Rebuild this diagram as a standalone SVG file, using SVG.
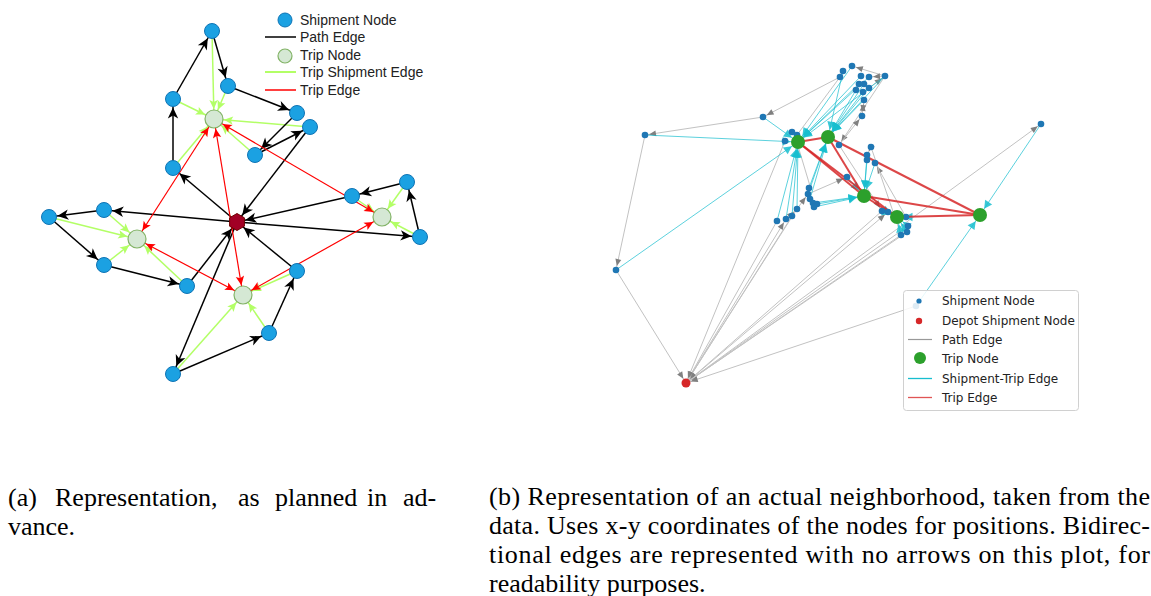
<svg xmlns="http://www.w3.org/2000/svg" width="1151" height="596" viewBox="0 0 1151 596">
<style>
  .ship{fill:#1ba1e2;stroke:#0f74b5;stroke-width:1}
  .trip{fill:#d5e8d4;stroke:#82b366;stroke-width:1.2}
  .path{stroke:#000;stroke-width:1.5;fill:none;marker-end:url(#mk)}
  .tse{stroke:#b3ff66;stroke-width:1.5;fill:none;marker-end:url(#mg)}
  .te{stroke:#ff0000;stroke-width:1.2;fill:none;marker-end:url(#mr);marker-start:url(#mr)}
  .lg{font-family:"Liberation Sans",Arial,sans-serif;font-size:14px;fill:#222}
  .rs{fill:#1f77b4}
  .rt{fill:#2ca02c}
  .pe{stroke:#c2c2c2;stroke-width:1;fill:none}
  .pa{marker-end:url(#mgs)}
  .pd{marker-end:url(#mgd)}
  .se{stroke:#17becf;stroke-width:1;stroke-opacity:.7;fill:none;marker-end:url(#mc)}
  .tr{stroke:#d62728;stroke-width:2;stroke-opacity:.85;fill:none}
  .rl{font-family:"DejaVu Sans",sans-serif;font-size:12px;fill:#222}
  .cap{font-family:"Liberation Serif","Times New Roman",serif;font-size:26px;fill:#000}
</style>
<defs>
  <marker id="mk" markerUnits="userSpaceOnUse" orient="auto" overflow="visible" markerWidth="1" markerHeight="1">
    <path d="M-8.5,0 L-19.5,-5.2 L-16.5,0 L-19.5,5.2 Z" fill="#000"/>
  </marker>
  <marker id="mg" markerUnits="userSpaceOnUse" orient="auto" overflow="visible" markerWidth="1" markerHeight="1">
    <path d="M-10,0 L-19,-4.2 L-17,0 L-19,4.2 Z" fill="#b3ff66"/>
  </marker>
  <marker id="mr" markerUnits="userSpaceOnUse" orient="auto-start-reverse" overflow="visible" markerWidth="1" markerHeight="1">
    <path d="M-10,0 L-19,-4.2 L-17,0 L-19,4.2 Z" fill="#ff0000"/>
  </marker>
  <marker id="mgs" markerUnits="userSpaceOnUse" orient="auto" overflow="visible" markerWidth="1" markerHeight="1">
    <path d="M-4,0 L-11,-3 L-11,3 Z" fill="#808080"/>
  </marker>
  <marker id="mgd" markerUnits="userSpaceOnUse" orient="auto" overflow="visible" markerWidth="1" markerHeight="1">
    <path d="M-5,0 L-12,-3 L-12,3 Z" fill="#808080"/>
  </marker>
  <marker id="mc" markerUnits="userSpaceOnUse" orient="auto" overflow="visible" markerWidth="1" markerHeight="1">
    <path d="M-7.5,0 L-15.5,-4.2 L-15.5,4.2 Z" fill="#17becf" fill-opacity=".85"/>
  </marker>
</defs>
<rect width="1151" height="596" fill="#fff"/>

<!-- ===== (a) planned representation ===== -->
<g id="a-connectors">
  <!-- trip-shipment edges -->
  <line class="tse" x1="212" y1="31" x2="214" y2="119"/>
  <line class="tse" x1="228" y1="86" x2="214" y2="119"/>
  <line class="tse" x1="173" y1="99" x2="214" y2="119"/>
  <line class="tse" x1="310" y1="127" x2="214" y2="119"/>
  <line class="tse" x1="255" y1="155" x2="214" y2="119"/>
  <line class="tse" x1="173" y1="168" x2="214" y2="119"/>
  <line class="tse" x1="104" y1="210" x2="137" y2="239"/>
  <line class="tse" x1="49" y1="217" x2="137" y2="239"/>
  <line class="tse" x1="104" y1="265" x2="137" y2="239"/>
  <line class="tse" x1="187" y1="286" x2="137" y2="239"/>
  <line class="tse" x1="173" y1="374" x2="243" y2="295"/>
  <line class="tse" x1="269" y1="333" x2="243" y2="295"/>
  <line class="tse" x1="297" y1="271" x2="243" y2="295"/>
  <line class="tse" x1="407" y1="182" x2="382" y2="217"/>
  <line class="tse" x1="420" y1="237" x2="382" y2="217"/>
  <line class="tse" x1="352" y1="196" x2="382" y2="217"/>
  <!-- path edges -->
  <line class="path" x1="173" y1="99" x2="212" y2="31"/>
  <line class="path" x1="212" y1="31" x2="228" y2="86"/>
  <line class="path" x1="228" y1="86" x2="297" y2="113"/>
  <line class="path" x1="297" y1="113" x2="255" y2="155"/>
  <line class="path" x1="255" y1="155" x2="310" y2="127"/>
  <line class="path" x1="310" y1="127" x2="237" y2="222"/>
  <line class="path" x1="173" y1="168" x2="173" y2="99"/>
  <line class="path" x1="237" y1="222" x2="173" y2="168"/>
  <line class="path" x1="352" y1="196" x2="237" y2="222"/>
  <line class="path" x1="407" y1="182" x2="352" y2="196"/>
  <line class="path" x1="420" y1="237" x2="407" y2="182"/>
  <line class="path" x1="237" y1="222" x2="420" y2="237"/>
  <line class="path" x1="297" y1="271" x2="237" y2="222"/>
  <line class="path" x1="269" y1="333" x2="297" y2="271"/>
  <line class="path" x1="173" y1="374" x2="269" y2="333"/>
  <line class="path" x1="237" y1="222" x2="173" y2="374"/>
  <line class="path" x1="187" y1="286" x2="237" y2="222"/>
  <line class="path" x1="104" y1="265" x2="187" y2="286"/>
  <line class="path" x1="49" y1="217" x2="104" y2="265"/>
  <line class="path" x1="104" y1="210" x2="49" y2="217"/>
  <line class="path" x1="237" y1="222" x2="104" y2="210"/>
  <!-- trip edges -->
  <line class="te" x1="214" y1="119" x2="137" y2="239"/>
  <line class="te" x1="214" y1="119" x2="243" y2="295"/>
  <line class="te" x1="214" y1="119" x2="382" y2="217"/>
  <line class="te" x1="137" y1="239" x2="243" y2="295"/>
  <line class="te" x1="243" y1="295" x2="382" y2="217"/>
</g>
<g id="a-nodes">
  <g id="a-depot"><polygon points="237,213.5 244.4,217.8 244.4,226.2 237,230.5 229.6,226.2 229.6,217.8" fill="#a20025" stroke="#6f0000" stroke-width="1"/></g>
  <g id="a-trip1"><circle class="trip" cx="214" cy="119" r="9"/></g>
  <g id="a-trip2"><circle class="trip" cx="137" cy="239" r="9"/></g>
  <g id="a-trip3"><circle class="trip" cx="243" cy="295" r="9"/></g>
  <g id="a-trip4"><circle class="trip" cx="382" cy="217" r="9"/></g>
  <g id="a-s1"><circle class="ship" cx="212" cy="31" r="7.5"/></g>
  <g id="a-s2"><circle class="ship" cx="228" cy="86" r="7.5"/></g>
  <g id="a-s3"><circle class="ship" cx="173" cy="99" r="7.5"/></g>
  <g id="a-s4"><circle class="ship" cx="173" cy="168" r="7.5"/></g>
  <g id="a-s5"><circle class="ship" cx="297" cy="113" r="7.5"/></g>
  <g id="a-s6"><circle class="ship" cx="310" cy="127" r="7.5"/></g>
  <g id="a-s7"><circle class="ship" cx="255" cy="155" r="7.5"/></g>
  <g id="a-s8"><circle class="ship" cx="104" cy="210" r="7.5"/></g>
  <g id="a-s9"><circle class="ship" cx="49" cy="217" r="7.5"/></g>
  <g id="a-s10"><circle class="ship" cx="104" cy="265" r="7.5"/></g>
  <g id="a-s11"><circle class="ship" cx="187" cy="286" r="7.5"/></g>
  <g id="a-s12"><circle class="ship" cx="173" cy="374" r="7.5"/></g>
  <g id="a-s13"><circle class="ship" cx="407" cy="182" r="7.5"/></g>
  <g id="a-s14"><circle class="ship" cx="352" cy="196" r="7.5"/></g>
  <g id="a-s15"><circle class="ship" cx="420" cy="237" r="7.5"/></g>
  <g id="a-s16"><circle class="ship" cx="297" cy="271" r="7.5"/></g>
  <g id="a-s17"><circle class="ship" cx="269" cy="333" r="7.5"/></g>
</g>
<g id="a-legend">
  <circle class="ship" cx="285" cy="20" r="7"/>
  <text class="lg" x="300" y="25">Shipment Node</text>
  <line x1="265" y1="37" x2="296" y2="37" stroke="#000" stroke-width="1.5"/>
  <text class="lg" x="300" y="42">Path Edge</text>
  <circle class="trip" cx="285" cy="56" r="7"/>
  <text class="lg" x="300" y="60">Trip Node</text>
  <line x1="265" y1="72" x2="296" y2="72" stroke="#b3ff66" stroke-width="2"/>
  <text class="lg" x="300" y="77">Trip Shipment Edge</text>
  <line x1="265" y1="90" x2="296" y2="90" stroke="#ff0000" stroke-width="1.5"/>
  <text class="lg" x="300" y="95">Trip Edge</text>
</g>

<!-- ===== (b) neighbourhood from data ===== -->
<g id="b-connectors">
  <!-- path edges -->
  <line class="pe pa" x1="840" y1="77" x2="763" y2="117"/>
  <line class="pe pa" x1="763" y1="117" x2="645" y2="135"/>
  <line class="pe pa" x1="645" y1="135" x2="616" y2="270"/>
  <line class="pe pd" x1="616" y1="270" x2="686" y2="383"/>
  <line class="pe pd" x1="777" y1="221" x2="686" y2="383"/>
  <line class="pe pa" x1="686" y1="383" x2="786" y2="219"/>
  <line class="pe pd" x1="792" y1="216" x2="686" y2="383"/>
  <line class="pe" x1="797" y1="209" x2="686" y2="383"/>
  <line class="pe pd" x1="785" y1="141" x2="686" y2="383"/>
  <line class="pe pa" x1="686" y1="383" x2="888" y2="212"/>
  <line class="pe pd" x1="882" y1="211" x2="686" y2="383"/>
  <line class="pe pd" x1="901" y1="235" x2="686" y2="383"/>
  <line class="pe" x1="907" y1="232" x2="686" y2="383"/>
  <line class="pe" x1="908" y1="226" x2="686" y2="383"/>
  <line class="pe pd" x1="916" y1="306" x2="686" y2="383"/>
  <line class="pe pa" x1="686" y1="383" x2="1041" y2="124"/>
  <line class="pe pa" x1="885" y1="76" x2="852" y2="66"/>
  <line class="pe pa" x1="885" y1="76" x2="869" y2="77"/>
  <line class="pe pa" x1="869" y1="88" x2="885" y2="76"/>
  <line class="pe" x1="840" y1="77" x2="797" y2="135"/>
  <line class="pe pa" x1="885" y1="76" x2="839" y2="145"/>
  <line class="pe pa" x1="864" y1="100" x2="862" y2="116"/>
  <line class="pe pa" x1="862" y1="116" x2="864" y2="100"/>
  <line class="pe pa" x1="839" y1="145" x2="862" y2="116"/>
  <line class="pe pa" x1="808" y1="194" x2="847" y2="177"/>
  <line class="pe pa" x1="786" y1="219" x2="797" y2="209"/>
  <line class="pe pa" x1="797" y1="209" x2="808" y2="194"/>
  <line class="pe" x1="798" y1="146" x2="810" y2="186"/>
  <line class="pe pa" x1="871" y1="147" x2="867" y2="155"/>
  <line class="pe pa" x1="906" y1="217" x2="875" y2="163"/>
  <line class="pe" x1="871" y1="147" x2="901" y2="235"/>
  <line class="pe pa" x1="839" y1="145" x2="882" y2="211"/>
  <!-- shipment-trip edges -->
  <line class="se" x1="645" y1="135" x2="798" y2="142"/>
  <line class="se" x1="616" y1="270" x2="798" y2="142"/>
  <line class="se" x1="763" y1="117" x2="798" y2="142"/>
  <line class="se" x1="777" y1="221" x2="798" y2="142"/>
  <line class="se" x1="786" y1="219" x2="798" y2="142"/>
  <line class="se" x1="792" y1="216" x2="798" y2="142"/>
  <line class="se" x1="797" y1="209" x2="798" y2="142"/>
  <line class="se" x1="852" y1="66" x2="798" y2="142"/>
  <line class="se" x1="861" y1="76" x2="798" y2="142"/>
  <line class="se" x1="869" y1="77" x2="798" y2="142"/>
  <line class="se" x1="859" y1="84" x2="798" y2="142"/>
  <line class="se" x1="885" y1="76" x2="798" y2="142"/>
  <line class="se" x1="843" y1="71" x2="828" y2="137"/>
  <line class="se" x1="864" y1="84" x2="828" y2="137"/>
  <line class="se" x1="869" y1="88" x2="828" y2="137"/>
  <line class="se" x1="863" y1="92" x2="828" y2="137"/>
  <line class="se" x1="856" y1="90" x2="828" y2="137"/>
  <line class="se" x1="864" y1="100" x2="828" y2="137"/>
  <line class="se" x1="885" y1="76" x2="828" y2="137"/>
  <line class="se" x1="808" y1="194" x2="828" y2="137"/>
  <line class="se" x1="810" y1="199" x2="828" y2="137"/>
  <line class="se" x1="809" y1="188" x2="828" y2="137"/>
  <line class="se" x1="813" y1="203" x2="864" y2="196"/>
  <line class="se" x1="817" y1="204" x2="864" y2="196"/>
  <line class="se" x1="814" y1="207" x2="864" y2="196"/>
  <line class="se" x1="867" y1="155" x2="864" y2="196"/>
  <line class="se" x1="867" y1="160" x2="864" y2="196"/>
  <line class="se" x1="875" y1="163" x2="864" y2="196"/>
  <line class="se" x1="847" y1="177" x2="864" y2="196"/>
  <line class="se" x1="882" y1="211" x2="897" y2="217"/>
  <line class="se" x1="888" y1="212" x2="897" y2="217"/>
  <line class="se" x1="906" y1="217" x2="897" y2="217"/>
  <line class="se" x1="908" y1="226" x2="897" y2="217"/>
  <line class="se" x1="907" y1="232" x2="897" y2="217"/>
  <line class="se" x1="901" y1="235" x2="897" y2="217"/>
  <line class="se" x1="1041" y1="124" x2="980" y2="215"/>
  <line class="se" x1="916" y1="306" x2="980" y2="215"/>
  <!-- trip edges -->
  <line class="tr" x1="798" y1="142" x2="828" y2="137"/>
  <line class="tr" x1="798" y1="142" x2="864" y2="196"/>
  <line class="tr" x1="798" y1="142" x2="897" y2="217"/>
  <line class="tr" x1="828" y1="137" x2="864" y2="196"/>
  <line class="tr" x1="828" y1="137" x2="980" y2="215"/>
  <line class="tr" x1="864" y1="196" x2="897" y2="217"/>
  <line class="tr" x1="864" y1="196" x2="980" y2="215"/>
  <line class="tr" x1="897" y1="217" x2="980" y2="215"/>
</g>
<g id="b-nodes">
  <g id="b-shipments">
    <circle class="rs" cx="852" cy="66" r="3.3"/>
    <circle class="rs" cx="843" cy="71" r="3.3"/>
    <circle class="rs" cx="840" cy="77" r="3.3"/>
    <circle class="rs" cx="861" cy="76" r="3.3"/>
    <circle class="rs" cx="869" cy="77" r="3.3"/>
    <circle class="rs" cx="885" cy="76" r="3.3"/>
    <circle class="rs" cx="859" cy="84" r="3.3"/>
    <circle class="rs" cx="864" cy="84" r="3.3"/>
    <circle class="rs" cx="869" cy="88" r="3.3"/>
    <circle class="rs" cx="856" cy="90" r="3.3"/>
    <circle class="rs" cx="863" cy="92" r="3.3"/>
    <circle class="rs" cx="864" cy="100" r="3.3"/>
    <circle class="rs" cx="862" cy="116" r="3.3"/>
    <circle class="rs" cx="763" cy="117" r="3.3"/>
    <circle class="rs" cx="645" cy="135" r="3.3"/>
    <circle class="rs" cx="616" cy="270" r="3.3"/>
    <circle class="rs" cx="792" cy="132" r="3.3"/>
    <circle class="rs" cx="797" cy="135" r="3.3"/>
    <circle class="rs" cx="785" cy="141" r="3.3"/>
    <circle class="rs" cx="839" cy="145" r="3.3"/>
    <circle class="rs" cx="871" cy="147" r="3.3"/>
    <circle class="rs" cx="867" cy="155" r="3.3"/>
    <circle class="rs" cx="867" cy="160" r="3.3"/>
    <circle class="rs" cx="875" cy="163" r="3.3"/>
    <circle class="rs" cx="847" cy="177" r="3.3"/>
    <circle class="rs" cx="809" cy="188" r="3.3"/>
    <circle class="rs" cx="808" cy="194" r="3.3"/>
    <circle class="rs" cx="810" cy="199" r="3.3"/>
    <circle class="rs" cx="813" cy="203" r="3.3"/>
    <circle class="rs" cx="817" cy="204" r="3.3"/>
    <circle class="rs" cx="814" cy="207" r="3.3"/>
    <circle class="rs" cx="797" cy="209" r="3.3"/>
    <circle class="rs" cx="792" cy="216" r="3.3"/>
    <circle class="rs" cx="786" cy="219" r="3.3"/>
    <circle class="rs" cx="777" cy="221" r="3.3"/>
    <circle class="rs" cx="882" cy="211" r="3.3"/>
    <circle class="rs" cx="888" cy="212" r="3.3"/>
    <circle class="rs" cx="906" cy="217" r="3.3"/>
    <circle class="rs" cx="908" cy="226" r="3.3"/>
    <circle class="rs" cx="907" cy="232" r="3.3"/>
    <circle class="rs" cx="901" cy="235" r="3.3"/>
    <circle class="rs" cx="1041" cy="124" r="3.3"/>
    <circle class="rs" cx="916" cy="306" r="3.3"/>
  </g>
  <g id="b-depot"><circle cx="686" cy="383" r="4.5" fill="#d62728"/></g>
  <g id="b-trips">
    <circle class="rt" cx="798" cy="142" r="7"/>
    <circle class="rt" cx="828" cy="137" r="7"/>
    <circle class="rt" cx="864" cy="196" r="7"/>
    <circle class="rt" cx="897" cy="217" r="7"/>
    <circle class="rt" cx="980" cy="215" r="7"/>
  </g>
</g>
<g id="b-legend">
  <rect x="903.5" y="290.5" width="175" height="120" rx="3" fill="#fff" fill-opacity=".85" stroke="#d0d0d0" stroke-width="1"/>
  <circle class="rs" cx="919" cy="301" r="2.6"/>
  <text class="rl" x="942" y="305">Shipment Node</text>
  <circle cx="919" cy="321" r="3.2" fill="#d62728"/>
  <text class="rl" x="942" y="325">Depot Shipment Node</text>
  <line x1="908" y1="339.5" x2="932" y2="339.5" stroke="#999" stroke-width="1.2"/>
  <text class="rl" x="942" y="344">Path Edge</text>
  <circle class="rt" cx="920" cy="358" r="6"/>
  <text class="rl" x="942" y="363">Trip Node</text>
  <line x1="908" y1="378.5" x2="932" y2="378.5" stroke="#17becf" stroke-width="1.3"/>
  <text class="rl" x="942" y="383">Shipment-Trip Edge</text>
  <line x1="908" y1="397.5" x2="932" y2="397.5" stroke="#e05555" stroke-width="1.3"/>
  <text class="rl" x="942" y="402">Trip Edge</text>
</g>

<!-- ===== captions ===== -->
<g id="captions">
  <text class="cap" y="506"><tspan x="8">(a)</tspan><tspan x="55">Representation,</tspan><tspan x="238">as</tspan><tspan x="275">planned</tspan><tspan x="367">in</tspan><tspan x="403">ad-</tspan></text>
  <text class="cap" x="8" y="535">vance.</text>
  <text class="cap" x="489" y="505" textLength="661" lengthAdjust="spacing">(b) Representation of an actual neighborhood, taken from the</text>
  <text class="cap" x="489" y="534" textLength="661" lengthAdjust="spacing">data. Uses x-y coordinates of the nodes for positions. Bidirec-</text>
  <text class="cap" x="489" y="563" textLength="661" lengthAdjust="spacing">tional edges are represented with no arrows on this plot, for</text>
  <text class="cap" x="489" y="592">readability purposes.</text>
</g>
</svg>
